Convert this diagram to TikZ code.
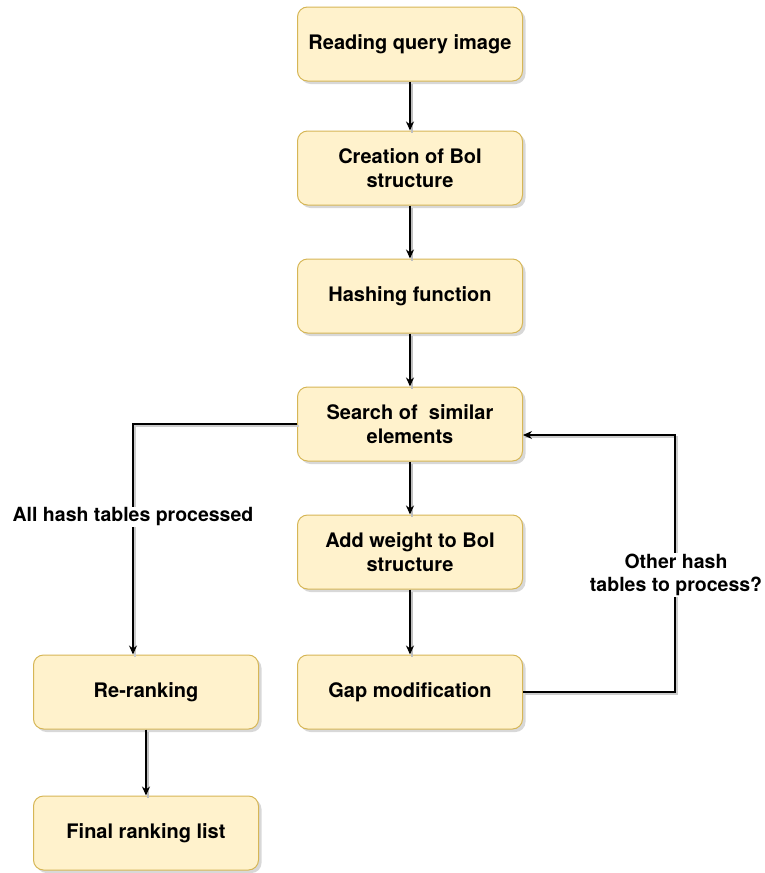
\documentclass[tikz,border=0pt]{standalone}
\usepackage{fontspec}
\setmainfont{TeX Gyre Heros}
\usetikzlibrary{arrows.meta}
\usetikzlibrary{shadows}
\usetikzlibrary{positioning}

\definecolor{boxfill}{HTML}{FFF2CC}
\definecolor{boxline}{HTML}{D6B656}

\begin{document}
\begin{tikzpicture}[x=1pt,y=-1pt,
    flowbox/.style={rectangle, rounded corners=10pt, fill=boxfill, draw=boxline,
        line width=1pt, minimum width=225pt, minimum height=74pt, align=center,
        font=\bfseries\fontsize{20}{24}\selectfont,
        drop shadow={shadow xshift=3pt, shadow yshift=-3pt, fill=black!30}},
    note/.style={fill=white, align=center, inner sep=1pt,
        font=\bfseries\fontsize{19.5}{23.5}\selectfont},
    link/.style={-{Stealth[length=9pt,width=8pt]}, line width=1.6pt,
        preaction={draw=black!25, line width=2pt, -, transform canvas={xshift=2pt,yshift=-2pt}}},
    loop/.style={-{Stealth[length=9pt,width=8pt]}, line width=1.1pt,
        preaction={draw=black!20, line width=1.5pt, -, transform canvas={xshift=2pt,yshift=-2pt}}}]
    \useasboundingbox (0,0) rectangle (765,873);

    \node[flowbox] (read) at (410,44) {Reading query image};
    \node[flowbox] (boi) at (410,168) {Creation of BoI\\structure};
    \node[flowbox] (hash) at (410,296) {Hashing function};
    \node[flowbox] (search) at (410,424) {Search of\ \ similar\\elements};
    \node[flowbox] (weight) at (410,552) {Add weight to BoI\\structure};
    \node[flowbox] (gap) at (410,692) {Gap modification};
    \node[flowbox] (rerank) at (146,692) {Re-ranking};
    \node[flowbox] (final) at (146,833) {Final ranking list};

    \coordinate (lturn) at (133,424);
    \coordinate (rturn) at (675,692);

    \draw[link] (read) -- (boi);
    \draw[link] (boi) -- (hash);
    \draw[link] (hash) -- (search);
    \draw[link] (search) -- (weight);
    \draw[link] (weight) -- (gap);
    \draw[link] (rerank) -- (final);
    \draw[loop] (search.west) -- (lturn) -- (lturn |- rerank.north);
    \draw[loop] (gap.east) -- (rturn) |- ([yshift=-11pt]search.east);

    \node[note] (alldone) at (133,517) {All hash tables processed};
    \node[note] (more) at (676,575) {Other hash\\tables to process?};
\end{tikzpicture}
\end{document}
